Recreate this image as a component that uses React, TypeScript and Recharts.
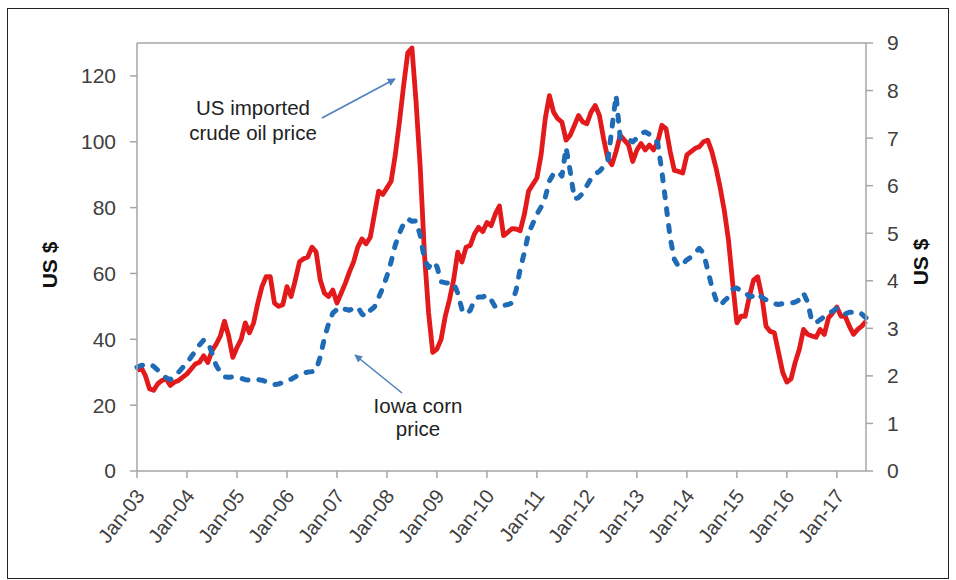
import React from "react";
import { LineChart, Line, XAxis, YAxis, ReferenceLine } from "recharts";

// tick labels, one per January
const years = ["03", "04", "05", "06", "07", "08", "09", "10", "11", "12", "13", "14", "15", "16", "17"];

// US imported crude oil price, US$/bbl, monthly Jan-03 .. Aug-17
const oilPrice = [
  30.5, 31.5, 29, 25, 24.5, 26.5, 27.5, 28, 26, 27, 27.5, 28.5,
  29.5, 31, 32.5, 33, 35, 33, 36.5, 38.5, 41, 45.5, 41, 34.5,
  37.5, 40, 45, 42, 45, 51, 56, 59, 59, 51, 50, 50.5,
  56, 53, 58, 63.5, 64.5, 65, 68, 66.5, 58, 54, 53, 55,
  51, 54, 57, 60.5, 63.5, 68, 70.5, 69, 71, 78, 85, 84,
  86, 88, 96, 106, 117, 127, 128.5, 112, 92, 66, 48, 36,
  37, 40, 47, 52, 58, 66.5, 63.5, 68, 68.5, 72, 74, 72.7,
  75.5, 74.5, 78, 80.5, 71.5, 72.5, 73.6, 73.5, 73, 78, 85, 87,
  89, 96, 107, 114, 109, 107, 106, 100.5, 102, 105, 108, 106,
  105.5, 109, 111, 108, 101, 95, 93, 97, 102, 100.5, 99, 94,
  97.5, 99.5, 97.5, 99, 97.5, 100, 105, 104, 97, 91.3, 91, 90.5,
  96, 97, 98, 98.5, 100, 100.5, 97, 92, 86, 79, 70, 57,
  45, 47, 47, 53, 58, 59, 53, 44, 42.4, 42, 36, 30,
  27, 28, 33, 37, 43, 41.5, 41, 40.6, 43, 41.5, 46.5, 48,
  49.8, 47, 47, 44, 41.5, 43, 44, 45.5,
];

// Iowa corn price, US$/bu, monthly Jan-03 .. Aug-17
const cornPrice = [
  2.18, 2.22, 2.23, 2.25, 2.2, 2.12, 2.03, 1.96, 1.92, 2.0, 2.08, 2.18,
  2.27, 2.4, 2.52, 2.65, 2.75, 2.72, 2.48, 2.22, 2.08, 1.98, 1.97, 1.98,
  1.97, 1.95, 1.92, 1.91, 1.93, 1.92, 1.91, 1.88, 1.83, 1.82, 1.83, 1.86,
  1.92, 1.93, 1.98, 2.04, 2.06, 2.08, 2.09, 2.12, 2.4, 2.8, 3.1, 3.32,
  3.4, 3.45, 3.4, 3.38, 3.42, 3.45, 3.3, 3.25, 3.38, 3.45, 3.65, 3.85,
  4.1, 4.4, 4.75, 5.0, 5.2, 5.3, 5.25, 5.26, 4.95, 4.45, 4.28, 4.4,
  4.3, 3.98, 3.96, 3.95, 3.96, 3.74, 3.4, 3.3, 3.38, 3.6, 3.66, 3.66,
  3.7, 3.6, 3.45, 3.45, 3.48, 3.5, 3.53, 3.8, 4.25, 4.6, 5.0, 5.2,
  5.4, 5.55, 5.75, 6.1, 6.25, 6.3, 6.2, 6.8, 6.3, 5.72, 5.75, 5.84,
  6.0, 6.15, 6.25, 6.3, 6.4, 6.5, 7.2, 7.9, 7.0, 7.0, 6.97, 6.92,
  7.0, 7.1, 7.13, 7.08, 7.02, 6.9, 6.3, 5.6, 4.9, 4.45, 4.3, 4.35,
  4.44, 4.5, 4.6, 4.68, 4.58, 4.23, 3.87, 3.6, 3.48, 3.58, 3.66, 3.82,
  3.85, 3.78, 3.76, 3.66, 3.68, 3.74, 3.65, 3.6, 3.55, 3.52, 3.5, 3.52,
  3.53, 3.53, 3.55, 3.6, 3.74, 3.55, 3.15, 3.12, 3.18, 3.25, 3.32, 3.36,
  3.42, 3.35, 3.3, 3.34, 3.34, 3.35, 3.3, 3.22,
];

const leftTicks = [0, 20, 40, 60, 80, 100, 120];
const rightTicks = [0, 1, 2, 3, 4, 5, 6, 7, 8, 9];
const janTicks = years.map((_, k) => k * 12);

const data = oilPrice.map((oil, i) => ({ i, oil, corn: cornPrice[i] }));

const FONT = "'Liberation Sans', Arial, sans-serif";
const TEXT = "#404040";
const AXIS = "#a6a6a6";

const XTick = ({ x, y, payload }: any) => {
  const label = "Jan-" + years[Math.round(payload.value / 12)];
  const ax = x + 3;
  const ay = y + 12;
  return (
    <text
      x={ax}
      y={ay}
      dy="0.35em"
      textAnchor="end"
      transform={`rotate(-52 ${ax} ${ay})`}
      fontSize={20}
      fill={TEXT}
      fontFamily={FONT}
    >
      {label}
    </text>
  );
};

export default function App() {
  const tickStyle = { fontSize: 21, fill: TEXT, fontFamily: FONT };
  return (
    <div style={{ position: "relative", width: 956, height: 580, background: "#fff", overflow: "hidden" }}>
      <style>{"body{margin:0}"}</style>
      <div
        style={{
          position: "absolute",
          left: 7,
          top: 8,
          width: 940,
          height: 569,
          border: "1px solid #222",
        }}
      />
      <LineChart
        width={956}
        height={580}
        data={data}
        margin={{ top: 43, right: 0, bottom: 0, left: 0 }}
        style={{ position: "absolute", left: 0, top: 0 }}
      >
        <XAxis
          dataKey="i"
          type="number"
          domain={[0, 175]}
          ticks={janTicks}
          interval={0}
          height={109}
          tickSize={7}
          tick={<XTick />}
          axisLine={{ stroke: AXIS, strokeWidth: 1.5 }}
          tickLine={{ stroke: AXIS, strokeWidth: 1.5 }}
        />
        <YAxis
          yAxisId="l"
          domain={[0, 130]}
          ticks={leftTicks}
          interval={0}
          width={137}
          tickSize={7}
          tickMargin={14}
          tick={tickStyle}
          axisLine={{ stroke: AXIS, strokeWidth: 1.5 }}
          tickLine={{ stroke: AXIS, strokeWidth: 1.5 }}
        />
        <YAxis
          yAxisId="r"
          orientation="right"
          domain={[0, 9]}
          ticks={rightTicks}
          interval={0}
          width={90}
          tickSize={7}
          tickMargin={14}
          tick={tickStyle}
          axisLine={{ stroke: AXIS, strokeWidth: 1.5 }}
          tickLine={{ stroke: AXIS, strokeWidth: 1.5 }}
        />
        <ReferenceLine yAxisId="l" y={130} stroke={AXIS} strokeWidth={1.5} />
        <Line
          yAxisId="l"
          type="linear"
          dataKey="oil"
          stroke="#e31a1c"
          strokeWidth={4.8}
          strokeLinejoin="round"
          dot={false}
          isAnimationActive={false}
        />
        <Line
          yAxisId="r"
          type="linear"
          dataKey="corn"
          stroke="#1f6bb6"
          strokeWidth={5}
          strokeDasharray="6 11"
          strokeLinecap="round"
          strokeLinejoin="round"
          dot={false}
          isAnimationActive={false}
        />
      </LineChart>
      <svg
        width={956}
        height={580}
        style={{ position: "absolute", left: 0, top: 0, pointerEvents: "none" }}
        fontFamily={FONT}
      >
        <defs>
          <marker id="arr" viewBox="0 0 10 10" refX="9" refY="5" markerWidth="5" markerHeight="5" orient="auto">
            <path d="M0,0 L10,5 L0,10 z" fill="#4f81bd" />
          </marker>
        </defs>
        <text x={50} y={265} transform="rotate(-90 50 265)" textAnchor="middle" dy="0.35em" fontSize={21} fontWeight="bold" fill="#111">
          US $
        </text>
        <text x={921} y={262} transform="rotate(-90 921 262)" textAnchor="middle" dy="0.35em" fontSize={21} fontWeight="bold" fill="#111">
          US $
        </text>
        <text x={253} y={115} textAnchor="middle" fontSize={20.5} fill="#222">US imported</text>
        <text x={253} y={140} textAnchor="middle" fontSize={20.5} fill="#222">crude oil price</text>
        <line x1={322} y1={118} x2={395} y2={79} stroke="#4f81bd" strokeWidth={1.6} markerEnd="url(#arr)" />
        <text x={418} y={413} textAnchor="middle" fontSize={20.5} fill="#222">Iowa corn</text>
        <text x={418} y={436} textAnchor="middle" fontSize={20.5} fill="#222">price</text>
        <line x1={402} y1={393} x2={355} y2={355} stroke="#4f81bd" strokeWidth={1.6} markerEnd="url(#arr)" />
      </svg>
    </div>
  );
}
